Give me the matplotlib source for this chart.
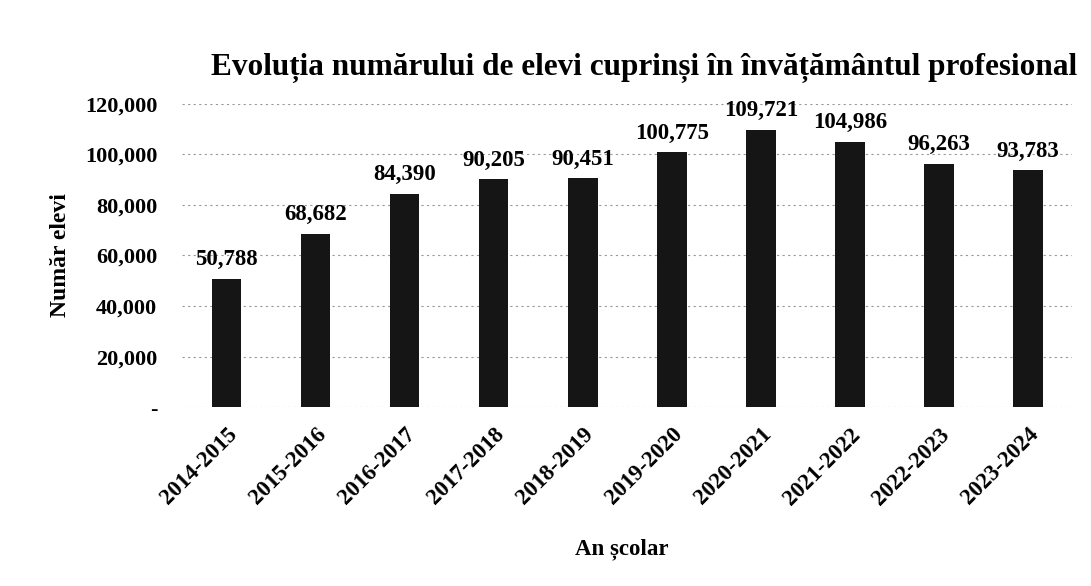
import numpy as np
import matplotlib.pyplot as plt

# ani scolari si numar elevi
ani = ['2014-2015', '2015-2016', '2016-2017', '2017-2018', '2018-2019',
       '2019-2020', '2020-2021', '2021-2022', '2022-2023', '2023-2024']
elevi = [50788, 68682, 84390, 90205, 90451, 100775, 109721, 104986, 96263, 93783]

plt.rcParams['font.family'] = ['Liberation Serif', 'DejaVu Serif']
plt.rcParams['font.weight'] = 'bold'

fig = plt.figure(figsize=(10.91, 5.86), dpi=100)
ax = fig.add_axes([0.167, 0.305, 0.816, 0.518])

x = np.arange(len(ani))
ax.bar(x, elevi, width=0.33, color='#151515', zorder=3)

for xi, v in zip(x, elevi):
    ax.annotate(f'{v:,}', (xi, v), textcoords='offset points', xytext=(0, 6),
                ha='center', va='bottom', fontsize=16.5, fontweight='bold')

ax.set_xlim(-0.5, len(ani) - 0.5)
ax.set_ylim(0, 120000)
ax.set_yticks(np.arange(0, 120001, 20000))
ax.set_yticklabels(['-'] + [f'{t:,}' for t in range(20000, 120001, 20000)])
ax.set_xticks(x)
ax.set_xticklabels(ani, rotation=45, ha='right', rotation_mode='anchor')
ax.tick_params(axis='x', length=0, labelsize=16.5, pad=12)
ax.tick_params(axis='y', length=0, labelsize=16, pad=18)

ax.grid(axis='y', linestyle=(0, (2, 3)), color='#999999', linewidth=0.8, zorder=0)
for s in ax.spines.values():
    s.set_visible(False)

fig.text(0.59, 0.884, 'Evoluția numărului de elevi cuprinși în învățământul profesional',
         ha='center', va='center', fontsize=22.5, fontweight='bold')
ax.set_ylabel('Număr elevi', fontsize=17, fontweight='bold', labelpad=10)
fig.text(0.57, 0.062, 'An școlar', ha='center', va='center', fontsize=16.5, fontweight='bold')

plt.savefig('out.png', dpi=100)
